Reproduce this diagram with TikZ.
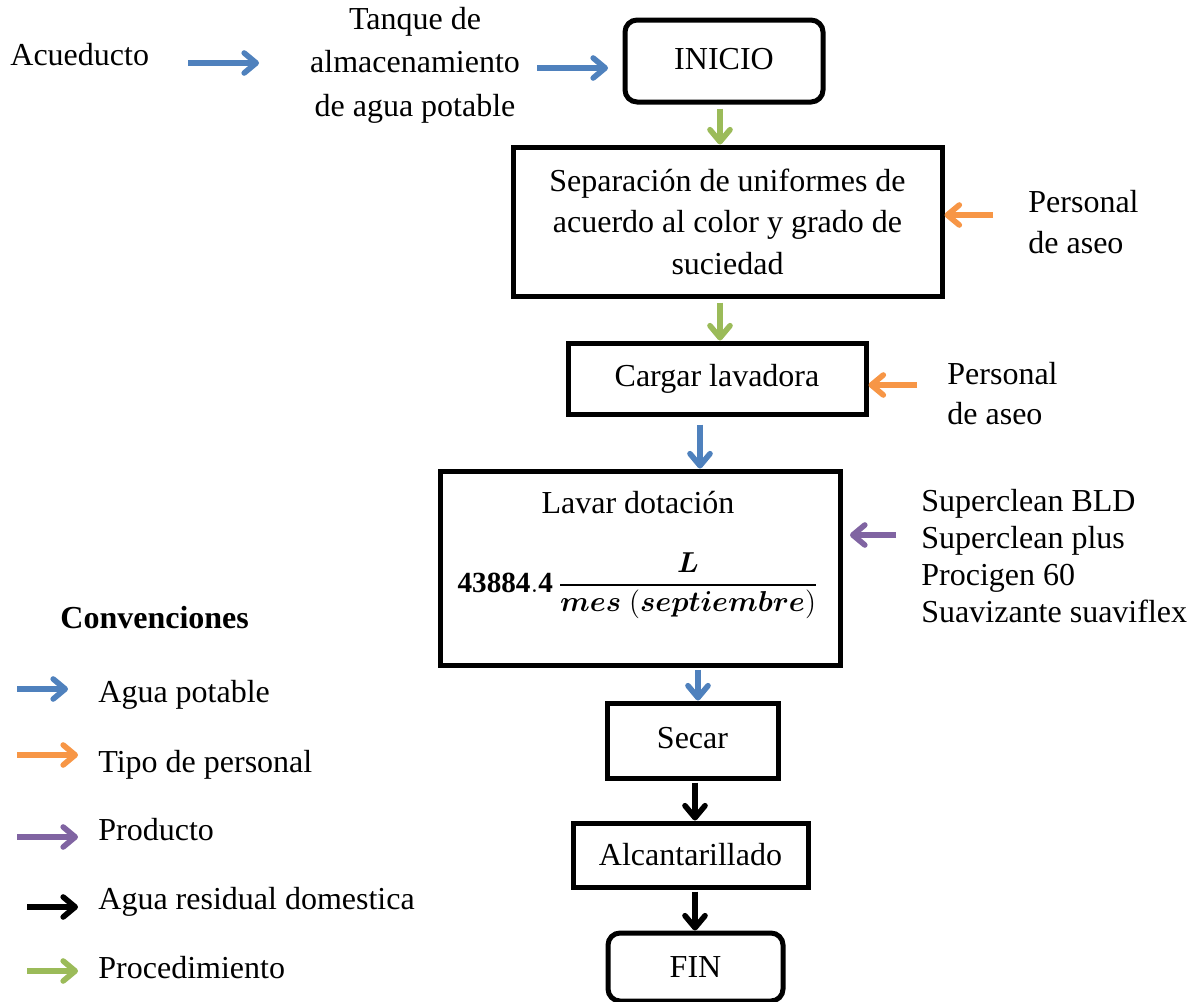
\documentclass[tikz,border=0pt]{standalone}
\usepackage{amsmath,bm}
\usepackage{fontspec}
\setmainfont{Liberation Serif}
\usetikzlibrary{arrows.meta,calc}
\definecolor{cblue}{HTML}{4F81BD}
\definecolor{corange}{HTML}{F79646}
\definecolor{cpurple}{HTML}{8064A2}
\definecolor{cgreen}{HTML}{9BBB59}
\tikzset{
  txt/.style={font=\fontsize{16}{21}\selectfont, inner sep=0pt},
  box/.style={draw, line width=2.5pt, inner sep=0pt, align=center, font=\fontsize{16}{20.75}\selectfont},
  rbox/.style={box, rounded corners=6pt},
  flow/.style={line width=2.8pt, -{Straight Barb[length=6pt,width=10pt,round]}},
  bflow/.style={flow, cblue},
  oflow/.style={flow, corange},
  pflow/.style={flow, cpurple},
  gflow/.style={flow, cgreen},
  kflow/.style={flow, black},
}
\begin{document}
\begin{tikzpicture}[x=0.5pt,y=-0.5pt]
\useasboundingbox (0,0) rectangle (1193,1001);
% top sources
\node[txt, anchor=base west] (acu) at (10,65) {Acueducto};
\node[txt, align=center, font=\fontsize{16}{21.75}\selectfont] (tanque) at (415,65) {Tanque de\\almacenamiento\\de agua potable};
\coordinate (a1s) at (188,63); \coordinate (a1e) at (259,63);
\coordinate (a2s) at (537,68); \coordinate (a2e) at (608,68);
\draw[bflow] (a1s) -- (a1e);
\draw[bflow] (a2s) -- (a2e);
% main boxes
\node[rbox, minimum width=99pt, minimum height=41pt] (inicio) at (724,61) {\raisebox{2pt}{INICIO}};
\node[box, minimum width=214.5pt, minimum height=74.5pt] (sep) at (727.5,221.5) {Separación de uniformes de\\acuerdo al color y grado de\\suciedad};
\node[box, minimum width=149pt, minimum height=35.5pt] (carga) at (717,378.5) {Cargar lavadora};
\node[box, minimum width=200pt, minimum height=97pt] (lav) at (640,568) {};
\node[txt, anchor=base] (lavt) at (638,513) {Lavar dotación};
\node[txt, anchor=center, font=\fontsize{14.6}{17}\selectfont] (form) at (638,586) {$\displaystyle\mathbf{43884.4}\,\frac{\bm{L}}{\bm{mes}\;(\bm{septiembre})}$};
\node[box, minimum width=85.5pt, minimum height=37.5pt] (secar) at (692.5,740.5) {\raisebox{2.5pt}{Secar}};
\node[box, minimum width=117.5pt, minimum height=32pt] (alc) at (690.5,855) {Alcantarillado};
\node[rbox, minimum width=87.5pt, minimum height=34pt] (fin) at (695.5,967) {\raisebox{-1.5pt}{FIN}};
% column coordinates
\coordinate (colG) at (720,0);
\coordinate (colB1) at (700,0);
\coordinate (colB2) at (698,0);
\coordinate (colK) at (695,0);
\draw[gflow, shorten <=2pt] (inicio.south -| colG) -- (sep.north -| colG);
\draw[gflow, shorten <=2pt] (sep.south -| colG) -- (carga.north -| colG);
\draw[bflow, shorten <=4pt] (carga.south -| colB1) -- (lav.north -| colB1);
\draw[bflow, shorten <=1pt] (lav.south -| colB2) -- (secar.north -| colB2);
\draw[kflow, shorten <=1pt] (secar.south -| colK) -- (alc.north -| colK);
\draw[kflow, shorten <=1pt] (alc.south -| colK) -- (fin.north -| colK);
% side inputs
\node[txt, anchor=west, align=left, font=\fontsize{16}{20.5}\selectfont] (per1) at (1028,222.5) {Personal\\de aseo};
\node[txt, anchor=west, align=left, font=\fontsize{16}{20}\selectfont] (per2) at (947,394) {Personal\\de aseo};
\node[txt, anchor=west, align=left, font=\fontsize{16}{18.5}\selectfont] (prod) at (921,556.5) {Superclean BLD\\Superclean plus\\Procigen 60\\Suavizante suaviflex};
\coordinate (o1s) at (993,215);
\coordinate (o2s) at (917,385);
\coordinate (p1s) at (896,535); \coordinate (p1e) at (850,535);
\draw[oflow] (o1s) -- (o1s -| sep.east);
\draw[oflow] (o2s) -- (o2s -| carga.east);
\draw[pflow] (p1s) -- (p1e);
% legend
\node[txt, anchor=base west, font=\fontsize{16}{21}\bfseries] (conv) at (60,628) {Convenciones};
\node[txt, anchor=base west] (l1) at (98,702) {Agua potable};
\node[txt, anchor=base west] (l2) at (98,772) {Tipo de personal};
\node[txt, anchor=base west] (l3) at (98,840) {Producto};
\node[txt, anchor=base west] (l4) at (98,909) {Agua residual domestica};
\node[txt, anchor=base west] (l5) at (98,978) {Procedimiento};
\coordinate (k1s) at (17,689); \coordinate (k1e) at (68,689);
\coordinate (k2s) at (17,755); \coordinate (k2e) at (78,755);
\coordinate (k3s) at (17,837); \coordinate (k3e) at (78,837);
\coordinate (k4s) at (27,907); \coordinate (k4e) at (78,907);
\coordinate (k5s) at (27,971); \coordinate (k5e) at (78,971);
\draw[bflow] (k1s) -- (k1e);
\draw[oflow] (k2s) -- (k2e);
\draw[pflow] (k3s) -- (k3e);
\draw[kflow] (k4s) -- (k4e);
\draw[gflow] (k5s) -- (k5e);
\end{tikzpicture}
\end{document}
